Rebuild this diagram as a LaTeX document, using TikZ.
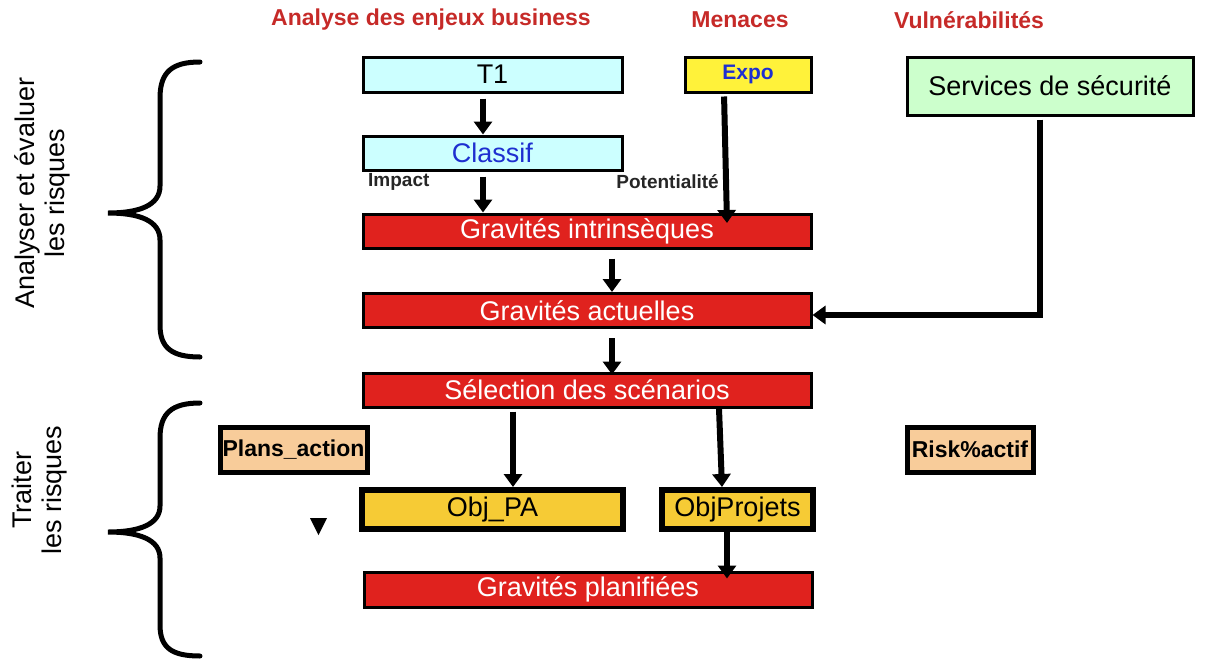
\documentclass[tikz,border=0pt]{standalone}
\usepackage{fontspec}
\setmainfont{Liberation Sans}
\usetikzlibrary{arrows.meta}
\definecolor{titlered}{HTML}{C62A28}
\definecolor{boxred}{HTML}{E0221E}
\definecolor{cyanfill}{HTML}{CCFFFF}
\definecolor{expoyellow}{HTML}{FFF23A}
\definecolor{greenfill}{HTML}{CCFFCC}
\definecolor{peachfill}{HTML}{F8CC9A}
\definecolor{goldfill}{HTML}{F6CB35}
\definecolor{textblue}{HTML}{1E2FD0}
\begin{document}
\begin{tikzpicture}[x=1pt,y=-1pt,
  box/.style={draw=black, line width=3pt, inner sep=0pt, anchor=center,
    font=\fontsize{27}{30}\selectfont},
  redbox/.style={box, fill=boxred, text=white, minimum width=448pt, minimum height=34pt},
  peachbox/.style={box, line width=5pt, fill=peachfill, minimum height=45pt,
    font=\bfseries\fontsize{23}{26}\selectfont},
  objbox/.style={box, line width=6pt, fill=goldfill, minimum height=39pt},
  arr/.style={line width=6pt, -{Triangle[length=13pt,width=18pt]}},
  titletext/.style={text=titlered, font=\bfseries\fontsize{23}{26}\selectfont},
  lbl/.style={inner sep=0pt, text=black!85, font=\bfseries\fontsize{19}{21}\selectfont},
  sidetext/.style={rotate=90, align=center, inner sep=0pt, font=\fontsize{27}{30}\selectfont},
  brace/.style={line width=5pt, line cap=round}
]
\useasboundingbox (0,0) rectangle (1208,659);

% titles
\node[titletext] (tA) at (431,20) {Analyse des enjeux business};
\node[titletext] (tM) at (740,20) {Menaces};
\node[titletext] (tV) at (969,20) {Vulnérabilités};

% side labels
\node[sidetext] (sA) at (42,193) {Analyser et évaluer\\les risques};
\node[sidetext] (sT) at (40,490) {Traiter\\les risques};

% braces
\draw[brace] (200,62) .. controls (172,62) and (160,72) .. (160,98) -- (160,186)
  .. controls (160,205) and (140,213) .. (108,213)
  .. controls (140,213) and (160,221) .. (160,240) -- (160,325)
  .. controls (160,348) and (172,357) .. (200,357);
\draw[brace] (200,403) .. controls (172,403) and (160,413) .. (160,438) -- (160,506)
  .. controls (160,524) and (140,532) .. (108,532)
  .. controls (140,532) and (160,540) .. (160,558) -- (160,625)
  .. controls (160,648) and (172,656) .. (200,656);

% boxes
\node[box, fill=cyanfill, minimum width=259pt, minimum height=35pt] (t1) at (492.5,74.5) {T1};
\node[box, fill=expoyellow, text=textblue, font=\bfseries\fontsize{21}{24}\selectfont,
  minimum width=126pt, minimum height=35pt] (expo) at (748,74.5) {Expo};
\node[box, fill=greenfill, minimum width=286pt, minimum height=58pt] (serv) at (1050,86) {Services de sécurité};
\node[box, fill=cyanfill, text=textblue, minimum width=259pt, minimum height=34pt] (classif) at (492.5,153) {Classif};
\node[redbox] (gi) at (587,231) {Gravités intrinsèques};
\node[redbox] (ga) at (587,310.5) {Gravités actuelles};
\node[redbox] (ss) at (587,390) {Sélection des scénarios};
\node[peachbox, minimum width=147pt] (plans) at (293.5,449.5) {Plans\_action};
\node[peachbox, minimum width=126pt] (risk) at (970,449.5) {Risk\%actif};
\node[objbox, minimum width=261pt] (objpa) at (492.5,509.5) {Obj\_PA};
\node[objbox, minimum width=151pt] (objp) at (737.5,509.5) {ObjProjets};
\node[redbox, minimum height=35pt] (gp) at (588,589.5) {Gravités planifiées};

% small labels
\node[lbl, anchor=west] (imp) at (368,182) {Impact};
\node[lbl, anchor=east] (pot) at (719,182) {Potentialité};

% marker
\fill (310,518) -- (327,518) -- (318.5,535) -- cycle;

% connector columns
\coordinate (xa) at (483,0);
\coordinate (xb) at (612,0);
\coordinate (xc) at (513,0);
\coordinate (xd1) at (719,0);
\coordinate (xd2) at (722,0);
\coordinate (xe) at (724,0);
\coordinate (ee) at (727,223);
\coordinate (xf) at (727,0);
\coordinate (xs) at (1040,0);
\coordinate (ys) at (0,315);

% connectors
\draw[arr, shorten <=5pt] (t1.south -| xa) -- (classif.north -| xa);
\draw[arr, shorten <=5pt] (classif.south -| xa) -- (gi.north -| xa);
\draw[arr, shorten <=3pt] (expo.south -| xe) -- (ee);
\draw[arr, shorten <=9pt] (gi.south -| xb) -- (ga.north -| xb);
\draw[arr, shorten <=9pt, shorten >=-3pt] (ga.south -| xb) -- (ss.north -| xb);
\draw[arr, shorten <=3pt] (ss.south -| xc) -- (objpa.north -| xc);
\draw[arr] (ss.south -| xd1) -- (objp.north -| xd2);
\draw[arr, shorten >=-8pt] (objp.south -| xf) -- (gp.north -| xf);
\draw[arr, shorten <=3pt] (serv.south -| xs) |- (ga.east |- ys);
\end{tikzpicture}
\end{document}
